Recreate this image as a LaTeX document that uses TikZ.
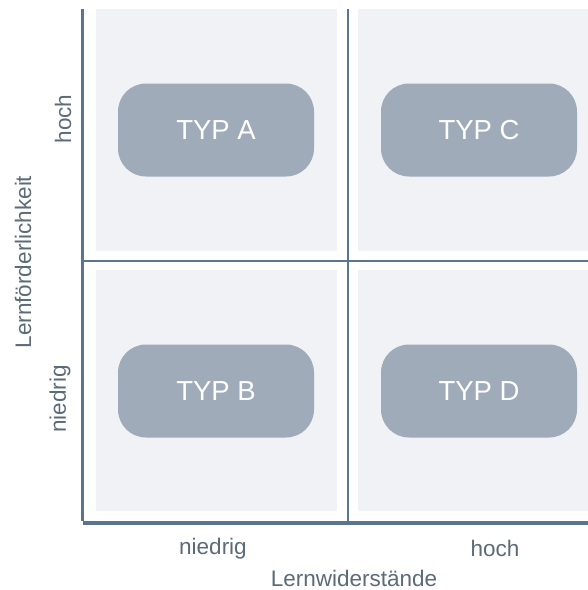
\documentclass[tikz,border=0pt]{standalone}
\usepackage{fontspec}
\setmainfont{Liberation Sans}
\definecolor{axiscol}{HTML}{5A7590}
\definecolor{boxcol}{HTML}{A0ABBA}
\definecolor{panelcol}{HTML}{F0F2F5}
\definecolor{textcol}{HTML}{5C6B78}
\begin{document}
\begin{tikzpicture}[x=1pt,y=-1pt,
  panel/.style={fill=panelcol,draw=none},
  typbox/.style={fill=boxcol,draw=none,rounded corners=28pt,minimum width=196pt,minimum height=93pt,inner sep=0pt,text=white,font=\fontsize{27.5}{30}\selectfont},
  axlabel/.style={text=textcol,font=\fontsize{22.5}{26}\selectfont,inner sep=0pt},
  axisline/.style={draw=axiscol,line width=3.5pt},
  midline/.style={draw=axiscol,line width=2pt}]
\useasboundingbox (0,0) rectangle (588,590);
\fill[white] (0,0) rectangle (588,590);
% panels
\fill[panel] (96,9) rectangle (337,251);
\fill[panel] (358,9) rectangle (588,251);
\fill[panel] (96,270) rectangle (337,511);
\fill[panel] (358,270) rectangle (588,511);
% grid lines
\coordinate (vtop) at (347.5,9);
\coordinate (vbot) at (347.5,522);
\coordinate (hl) at (83,261);
\coordinate (hr) at (588,261);
\draw[midline] (vtop) -- (vbot);
\draw[midline] (hl) -- (hr);
% axes
\coordinate (ytop) at (82.5,9);
\coordinate (origin) at (82.5,522.5);
\coordinate (xend) at (588,522.5);
\draw[axisline,line width=4pt] (origin) -- (xend);
\draw[axisline] (ytop) -- ([yshift=2pt]origin);
% boxes
\node[typbox] (A) at (216,130) {TYP A};
\node[typbox] (C) at (479,130) {TYP C};
\node[typbox] (B) at (216,391) {TYP B};
\node[typbox] (D) at (479,391) {TYP D};
% labels
\node[axlabel,rotate=90] (yhoch) at (63,119) {hoch};
\node[axlabel,rotate=90] (yniedrig) at (60,399) {niedrig};
\node[axlabel,rotate=90] (ytitle) at (23,262) {Lernförderlichkeit};
\node[axlabel] (xniedrig) at (213,549) {niedrig};
\node[axlabel] (xhoch) at (495,548) {hoch};
\node[axlabel] (xtitle) at (354,578) {Lernwiderstände};
\end{tikzpicture}
\end{document}
